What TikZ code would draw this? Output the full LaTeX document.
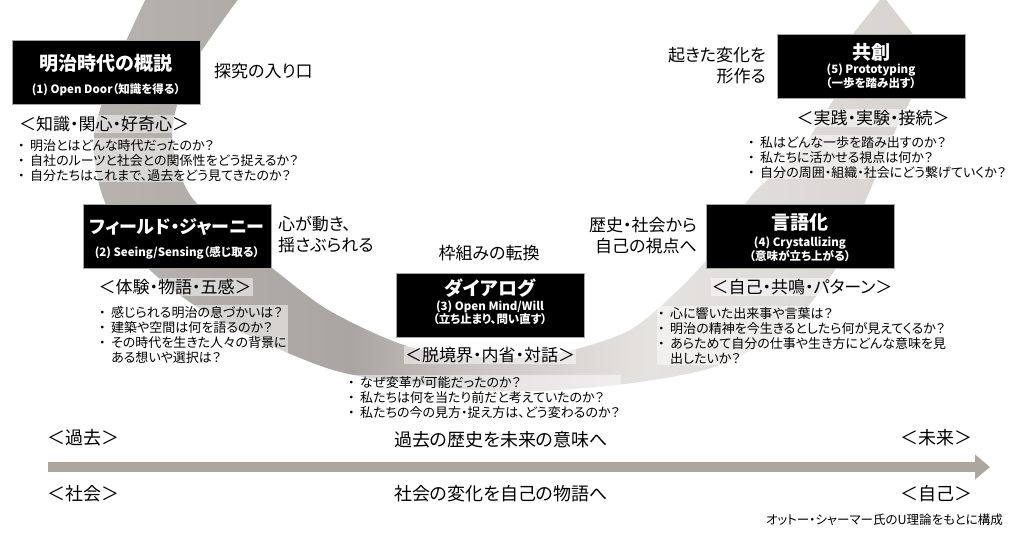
\documentclass[tikz,border=0pt]{standalone}
\usepackage{fontspec}
\setmainfont{Noto Sans CJK JP}[RawFeature=+palt]
\usetikzlibrary{arrows.meta}

\definecolor{ubandA}{HTML}{B7B3AE}
\definecolor{ubandB}{HTML}{A9A5A0}
\definecolor{ubandC}{HTML}{CAC7C3}
\definecolor{ubandD}{HTML}{E5E3E0}
\definecolor{ubandE}{HTML}{D4D1CD}
\definecolor{tlgray}{HTML}{ADA69C}

\pgfdeclarehorizontalshading{ubandshade}{100bp}{color(0bp)=(ubandA); color(25bp)=(ubandA); color(40bp)=(ubandB); color(47bp)=(ubandC); color(57bp)=(ubandD); color(75bp)=(ubandE); color(100bp)=(ubandE)}

\tikzset{
  stagebox/.style={fill=black, draw=gray!70, line width=0.5pt, minimum width=188pt, minimum height=64pt, inner sep=0pt},
  stagetitle/.style={text=white, font=\fontsize{19}{22}\selectfont\bfseries, inner sep=0pt},
  stagesub/.style={text=white, align=center, font=\fontsize{11.5}{12.5}\selectfont\bfseries, inner sep=0pt},
  sidenote/.style={font=\fontsize{17}{21}\selectfont, inner sep=0pt},
  keylabel/.style={font=\fontsize{17}{19}\selectfont, fill=white, fill opacity=0.5, text opacity=1, inner sep=1pt},
  qlist/.style={align=left, font=\fontsize{13}{15}\selectfont, fill=white, fill opacity=0.5, text opacity=1, inner sep=1pt, anchor=north west},
  axislabel/.style={font=\fontsize{18}{20}\selectfont, inner sep=0pt},
  timeline/.style={draw=tlgray, line width=10pt, -{Triangle[length=15pt,width=24pt]}},
  credit/.style={font=\fontsize{12.5}{14}\selectfont, inner sep=0pt, anchor=east}
}
\newcommand{\qi}{\makebox[12pt][l]{・}}
\newcommand{\qc}{\hspace*{12pt}}

\begin{document}
\begin{tikzpicture}[x=1pt, y=-1pt]
  \useasboundingbox (0,0) rectangle (1024,535);
  \clip (0,0) rectangle (1024,535);

  % U band
  \shade[shading=ubandshade] plot[smooth] coordinates {(150,-10) (118,60) (94,135) (104,200) (145,265) (215,318) (333,370) (450,388) (540,391) (640,382) (720,365) (790,325) (840,262) (868,195) (892,138) (912,97)}
    -- (962,97) -- (883,-4) -- (803,97)
    -- plot[smooth] coordinates {(835,97) (800,150) (752,195) (715,250) (676,292) (628,331) (560,353) (500,358) (430,352) (383,337) (325,308) (272,268) (222,228) (187,190) (172,135) (190,70) (245,-10)} -- cycle;

  % (1)
  \node[stagebox] (meiji) at (106,72) {};
  \node[stagetitle] (meiji-title) at (106,63) {明治時代の概説};
  \node[stagesub] (meiji-sub) at (106,90) {(1) Open Door（知識を得る）};
  \node[sidenote, anchor=west] (meiji-note) at (214,71) {探究の入り口};
  \node[keylabel] (meiji-key) at (104,124) {＜知識・関心・好奇心＞};
  \node[qlist] (meiji-q) at (17,138) {\qi 明治とはどんな時代だったのか？\\
    \qi 自社のルーツと社会との関係性をどう捉えるか？\\
    \qi 自分たちはこれまで、過去をどう見てきたのか？};

  % (2)
  \node[stagebox] (field) at (177,236) {};
  \node[stagetitle, font=\fontsize{18}{22}\selectfont\bfseries] (field-title) at (177,227) {フィールド・ジャーニー};
  \node[stagesub] (field-sub) at (177,253) {(2) Seeing/Sensing（感じ取る）};
  \node[sidenote, anchor=west, align=left] (field-note) at (278,234) {心が動き、\\揺さぶられる};
  \node[keylabel] (field-key) at (175,287) {＜体験・物語・五感＞};
  \node[qlist] (field-q) at (98,305) {\qi 感じられる明治の息づかいは？\\
    \qi 建築や空間は何を語るのか？\\
    \qi その時代を生きた人々の背景に\\
    \qc ある想いや選択は？};

  % (3)
  \node[stagebox] (dialog) at (490,305) {};
  \node[stagetitle] (dialog-title) at (490,288) {ダイアログ};
  \node[stagesub] (dialog-sub) at (490,313) {(3) Open Mind/Will\\（立ち止まり、問い直す）};
  \node[sidenote] (dialog-note) at (489,253) {枠組みの転換};
  \node[keylabel] (dialog-key) at (490,355) {＜脱境界・内省・対話＞};
  \node[qlist] (dialog-q) at (347,375) {\qi なぜ変革が可能だったのか？\\
    \qi 私たちは何を当たり前だと考えていたのか？\\
    \qi 私たちの今の見方・捉え方は、どう変わるのか？};

  % (4)
  \node[stagebox] (words) at (800,236) {};
  \node[stagetitle] (words-title) at (800,222) {言語化};
  \node[stagesub] (words-sub) at (800,249) {(4) Crystallizing\\（意味が立ち上がる）};
  \node[sidenote, anchor=east, align=right] (words-note) at (697,236) {歴史・社会から\\自己の視点へ};
  \node[keylabel] (words-key) at (802,287) {＜自己・共鳴・パターン＞};
  \node[qlist] (words-q) at (657,306) {\qi 心に響いた出来事や言葉は？\\
    \qi 明治の精神を今生きるとしたら何が見えてくるか？\\
    \qi あらためて自分の仕事や生き方にどんな意味を見\\
    \qc 出したいか？};

  % (5)
  \node[stagebox] (cocreate) at (871,66) {};
  \node[stagetitle] (cocreate-title) at (871,52) {共創};
  \node[stagesub] (cocreate-sub) at (871,76) {(5) Prototyping\\（一歩を踏み出す）};
  \node[sidenote, anchor=east, align=right] (cocreate-note) at (766,66) {起きた変化を\\形作る};
  \node[keylabel] (cocreate-key) at (873,118) {＜実践・実験・接続＞};
  \node[qlist] (cocreate-q) at (747,135) {\qi 私はどんな一歩を踏み出すのか？\\
    \qi 私たちに活かせる視点は何か？\\
    \qi 自分の周囲・組織・社会にどう繋げていくか？};

  % time axis
  \node[axislabel] (past) at (83,438) {＜過去＞};
  \node[axislabel] (history) at (501,440) {過去の歴史を未来の意味へ};
  \node[axislabel] (future) at (936,438) {＜未来＞};
  \coordinate (axis-start) at (48,467);
  \coordinate (axis-end) at (990,467);
  \draw[timeline] (axis-start) -- (axis-end);
  \node[axislabel] (society) at (83,494) {＜社会＞};
  \node[axislabel] (story) at (501,494) {社会の変化を自己の物語へ};
  \node[axislabel] (self) at (936,494) {＜自己＞};
  \node[credit] (source) at (1003,520) {オットー・シャーマー氏のU理論をもとに構成};
\end{tikzpicture}
\end{document}
